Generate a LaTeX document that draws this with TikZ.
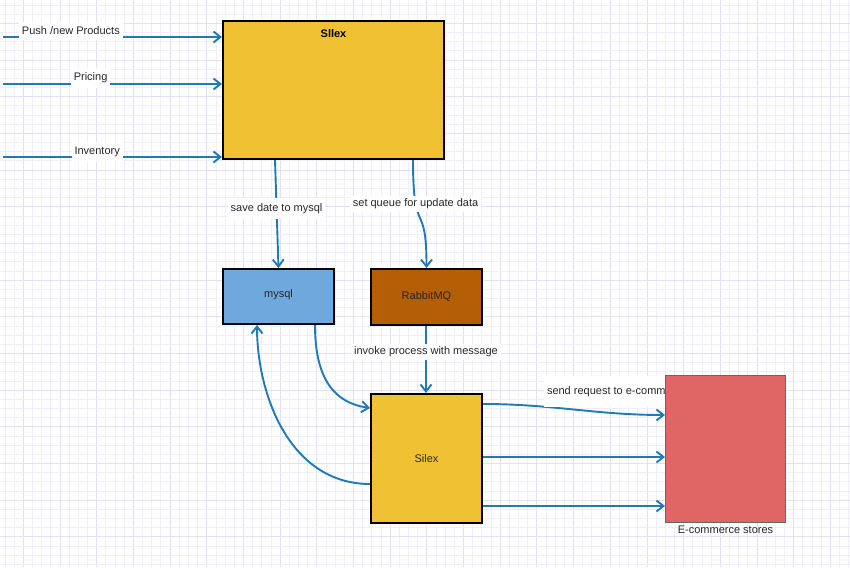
\documentclass[tikz,border=0pt]{standalone}
\usepackage{fontspec}
\setmainfont{Liberation Sans}
\usepackage{tikz}
\usetikzlibrary{positioning,arrows.meta}

\definecolor{flow}{RGB}{32,122,183}
\definecolor{gold}{RGB}{240,193,50}
\definecolor{sky}{RGB}{111,168,220}
\definecolor{rust}{RGB}{180,95,6}
\definecolor{coral}{RGB}{224,102,102}
\definecolor{gridminor}{RGB}{238,238,252}
\definecolor{gridmajor}{RGB}{224,224,248}
\definecolor{txt}{RGB}{40,40,40}

\pgfdeclarelayer{grid}
\pgfdeclarelayer{edges}
\pgfsetlayers{grid,edges,main}

\begin{document}
\begin{tikzpicture}[x=1pt,y=-1pt,
  font=\fontsize{11}{13}\selectfont, text=txt,
  box/.style={draw=black,line width=2pt,anchor=north west,inner sep=0pt},
  flowline/.style={draw=flow,line width=1.9pt,-{Straight Barb[length=7pt,width=11pt]}},
  tag/.style={fill=white,inner xsep=3pt,inner ysep=5pt}]

\useasboundingbox (0,0) rectangle (850,567);

% Paper grid
\begin{pgfonlayer}{grid}
\fill[white] (0,0) rectangle (850,567);
\foreach \i in {0,...,92} {
  \pgfmathtruncatemacro\m{mod(\i,4)}
  \ifnum\m=2 \def\gc{gridmajor}\else\def\gc{gridminor}\fi
  \draw[\gc,line width=0.8pt] (5+9.17*\i,0) -- (5+9.17*\i,567);
}
\foreach \j in {0,...,61} {
  \pgfmathtruncatemacro\m{mod(\j,4)}
  \ifnum\m=2 \def\gc{gridmajor}\else\def\gc{gridminor}\fi
  \draw[\gc,line width=0.8pt] (0,5+9.17*\j) -- (850,5+9.17*\j);
}
\end{pgfonlayer}

% Boxes
\node[box,fill=gold,minimum width=221pt,minimum height=138pt,
  label={[anchor=north,inner sep=0pt,yshift=-9pt,text=black,font=\fontsize{11}{13}\selectfont\bfseries]north:Sllex}]
  (sllex) at (222,20) {};
\node[box,fill=sky,minimum width=111pt,minimum height=55pt,text depth=6pt] (mysql) at (222,268) {mysql};
\node[box,fill=rust,minimum width=111pt,minimum height=56pt,text=black!85] (rabbit) at (370,268) {RabbitMQ};
\node[box,fill=gold,minimum width=111pt,minimum height=129pt] (silex) at (370,393) {Silex};
\node[box,fill=coral,draw=black!60,line width=1pt,minimum width=120pt,minimum height=147pt,
  label={[inner sep=3pt]below:E-commerce stores}] (ecom) at (665,375) {};

% Incoming feeds
\coordinate (push) at (3,37);
\coordinate (price) at (3,84);
\coordinate (stock) at (3,157);

\begin{pgfonlayer}{edges}
\draw[flowline] (push) -- node[tag,pos=0.31,yshift=6pt] {Push /new Products} (push -| sllex.west);
\draw[flowline] (price) -- node[tag,pos=0.40,yshift=6pt] {Pricing} (price -| sllex.west);
\draw[flowline] (stock) -- node[tag,pos=0.43,yshift=5pt] {Inventory} (stock -| sllex.west);

% Sllex to storage and queue
\draw[flowline] ([xshift=53pt]sllex.south west) -- node[tag,pos=0.45] {save date to mysql} (mysql.north);
\draw[flowline] ([xshift=-32pt]sllex.south east) .. controls +(0,80) and +(0,-70) ..
  node[tag,pos=0.28,inner ysep=3pt] {set queue for update data} (rabbit.north);

% Queue to worker
\draw[flowline] ([xshift=-0.5pt]rabbit.south) -- node[tag,pos=0.39,inner ysep=3pt] {invoke process with message} ([xshift=-0.5pt]silex.north);

% Worker and mysql
\draw[flowline] ([xshift=-20pt]mysql.south east) .. controls +(0,55) and +(-35,-5) .. ([yshift=-15pt]silex.north west);
\draw[flowline] ([yshift=40pt]silex.south west) .. controls +(-80,0) and +(0,70) .. ([xshift=35pt]mysql.south west);

% Worker to stores
\draw[flowline] ([yshift=-11pt]silex.north east) .. controls +(70,0) and +(-70,0) ..
  node[tag,pos=0.5,xshift=43pt,yshift=18pt,inner ysep=10pt] {send request to e-commerce} ([yshift=-40pt]ecom.north west);
\draw[flowline] ([yshift=1.5pt]silex.east) -- ([yshift=1.5pt]silex.east -| ecom.west);
\draw[flowline] ([yshift=18pt]silex.south east) -- ([yshift=18pt]silex.south east -| ecom.west);
\end{pgfonlayer}

\end{tikzpicture}
\end{document}
